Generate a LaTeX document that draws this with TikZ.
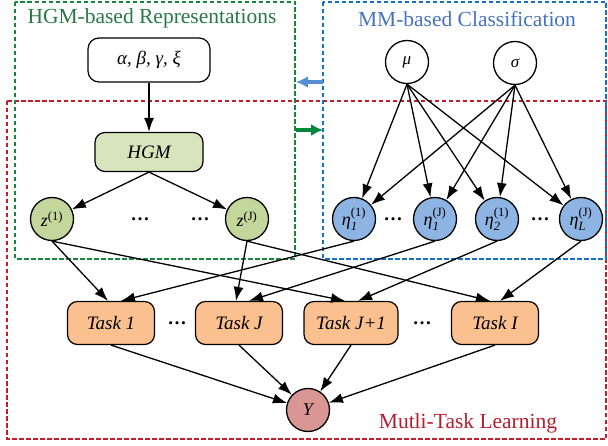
\documentclass[tikz,border=0pt]{standalone}
\usepackage{fontspec}
\usepackage{amsmath}
\setmainfont{Liberation Serif}
\usetikzlibrary{arrows.meta}

\definecolor{hgmline}{RGB}{22,134,62}
\definecolor{mmline}{RGB}{20,112,196}
\definecolor{mtlline}{RGB}{196,28,40}
\definecolor{hgmtext}{RGB}{40,120,70}
\definecolor{mmtext}{RGB}{70,115,190}
\definecolor{mtltext}{RGB}{180,30,45}
\definecolor{hgmfill}{RGB}{216,228,188}
\definecolor{zfill}{RGB}{195,214,155}
\definecolor{etafill}{RGB}{142,180,227}
\definecolor{taskfill}{RGB}{250,192,144}
\definecolor{yfill}{RGB}{217,150,148}
\definecolor{toleft}{RGB}{85,142,213}
\definecolor{toright}{RGB}{0,134,61}

% variable with stacked sub- and superscript
\newcommand{\gsym}[3]{$\textit{#1}_{\textit{#2}}^{\textup{(#3)}}$}

\begin{document}
\begin{tikzpicture}[x=1pt, y=-1pt, >={Latex[length=14pt,width=10pt]},
  every node/.style={font=\fontsize{19}{22}\selectfont\itshape},
  frame/.style={line width=2.5pt, dash pattern=on 4.5pt off 2.5pt},
  title/.style={font=\fontsize{21.5}{24}\selectfont\upshape},
  parbox/.style={draw, line width=1.2pt, rounded corners=11pt, fill=white, minimum width=122pt, minimum height=44pt},
  hgmbox/.style={draw, line width=1.2pt, rounded corners=10pt, fill=hgmfill, minimum width=108pt, minimum height=39pt},
  taskbox/.style={draw, line width=1.2pt, rounded corners=10pt, fill=taskfill, minimum width=87pt, minimum height=43pt},
  var/.style={circle, draw, line width=1.3pt, minimum size=43pt, inner sep=0pt, font=\fontsize{18}{20}\selectfont\itshape},
  edge/.style={->, line width=1.3pt},
  dots/.style={font=\fontsize{19}{22}\selectfont\bfseries\upshape}]
\useasboundingbox (0,0) rectangle (608,446);

% dashed frames
\draw[frame, mtlline] (7,101) rectangle (606,439);
\draw[frame, hgmline] (15,2) rectangle (295,259);
\draw[frame, mmline] (323,2) rectangle (606,259);

\node[title, text=hgmtext] (thgm) at (152,18) {HGM-based Representations};
\node[title, text=mmtext] (tmm) at (467,19) {MM-based Classification};
\node[title, text=mtltext] (tmtl) at (468,423) {Mutli-Task Learning};

% arrows between the two upper frames
\coordinate (mmw) at (323,82);
\coordinate (hgme) at (296,82);
\coordinate (hgmo) at (296,130);
\coordinate (mmi) at (323,130);
\draw[-{Latex[length=12pt,width=12pt]}, line width=3.5pt, toleft] (mmw) -- (hgme);
\draw[-{Latex[length=12pt,width=12pt]}, line width=3.5pt, toright] (hgmo) -- (mmi);

% nodes
\node[parbox] (par) at (149,60) {α, β, γ, ξ};
\node[hgmbox] (hgm) at (149,152) {HGM};
\node[var, fill=zfill] (z1) at (52,219) {$\textit{z}^{\textup{(1)}}$};
\node[var, fill=zfill] (zJ) at (247,219) {$\textit{z}^{\textup{(J)}}$};
\node[dots] (zd1) at (140,219) {…};
\node[dots] (zd2) at (200,219) {…};

\node[var, fill=white, font=\fontsize{17}{19}\selectfont\itshape] (mu) at (407,62) {μ};
\node[var, fill=white, font=\fontsize{17}{19}\selectfont\itshape] (sg) at (515,63) {σ};
\node[var, fill=etafill] (e11) at (354,219) {\gsym{η}{1}{1}};
\node[var, fill=etafill] (e1J) at (435,219) {\gsym{η}{1}{J}};
\node[var, fill=etafill] (e21) at (497,219) {\gsym{η}{2}{1}};
\node[var, fill=etafill] (eLJ) at (581,219) {\gsym{η}{L}{J}};
\node[dots] (ed1) at (393,219) {…};
\node[dots] (ed2) at (540,219) {…};

\node[taskbox] (t1) at (111,323) {Task 1};
\node[taskbox] (tJ) at (239,323) {Task J};
\node[taskbox, minimum width=94pt] (tJ1) at (351,323) {Task J+1};
\node[taskbox] (tI) at (495,323) {Task I};
\node[dots] (td1) at (177,323) {…};
\node[dots] (td2) at (422,323) {…};

\node[var, fill=yfill] (y) at (308,410) {Y};

% edges
\draw[edge] (par) -- (hgm);
\draw[edge] (hgm.south) -- (z1);
\draw[edge] (hgm.south) -- (zJ);
\foreach \e in {e11,e1J,e21,eLJ} {
  \draw[edge] (mu.south) -- (\e);
  \draw[edge] (sg.south) -- (\e);
}
\draw[edge] (z1.south) -- ([xshift=-3pt]t1.north);
\draw[edge] (z1.south) -- ([xshift=-6pt]tJ1.north);
\draw[edge] (zJ.south) -- ([xshift=-3pt]tJ.north);
\draw[edge] (zJ.south) -- ([xshift=-5pt]tI.north);
\draw[edge] (e11.south) -- ([xshift=10pt]t1.north);
\draw[edge] (e1J.south) -- ([xshift=10pt]tJ.north);
\draw[edge] (e21.south) -- ([xshift=7pt]tJ1.north);
\draw[edge] (eLJ.south) -- ([xshift=5pt]tI.north);
\foreach \t in {t1,tJ,tJ1,tI}
  \draw[edge] (\t.south) -- (y);
\end{tikzpicture}
\end{document}
